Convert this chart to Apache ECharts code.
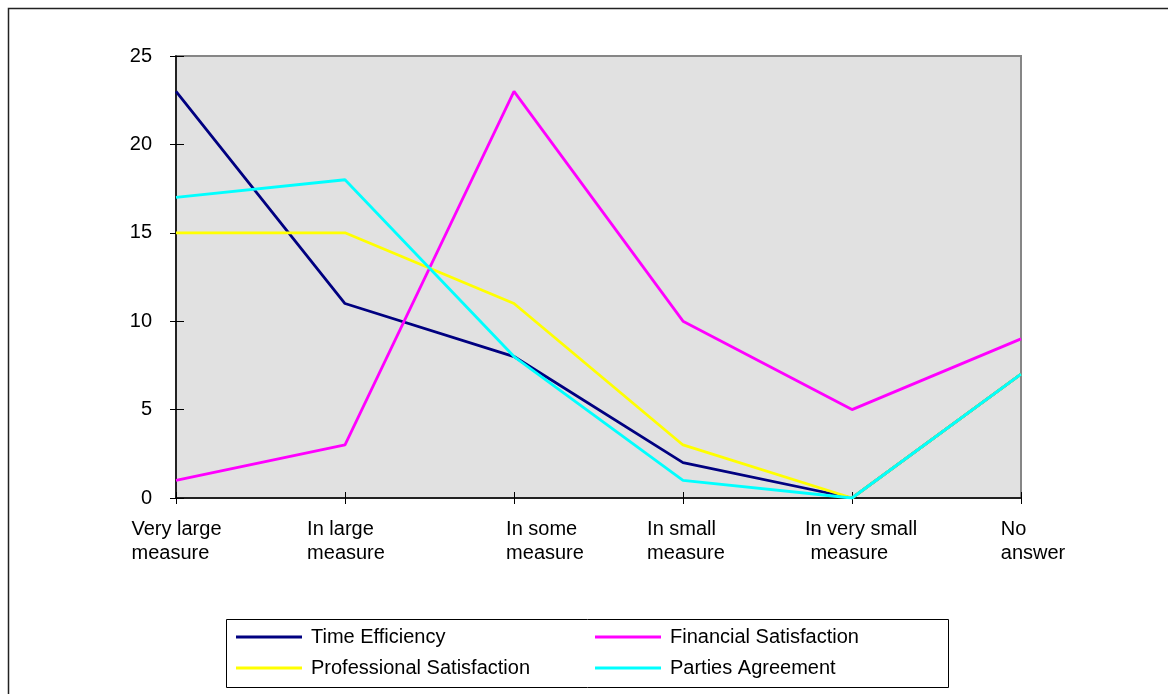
<!DOCTYPE html>
<html><head><meta charset="utf-8">
<script src="https://cdn.jsdelivr.net/npm/echarts@6/dist/echarts.min.js"></script>
<style>html,body{margin:0;padding:0;background:#fff}#c{width:1168px;height:694px}</style>
</head><body><div id="c"></div>
<script>
// ---- data ----
const categories = ['Very large\nmeasure', 'In large\nmeasure', 'In some\nmeasure', 'In small\nmeasure', 'In very small\n measure', 'No\nanswer'];
const timeEfficiency = [23, 11, 8, 2, 0, 7];
const financialSatisfaction = [1, 3, 23, 10, 5, 9];
const professionalSatisfaction = [15, 15, 11, 3, 0, 7];
const partiesAgreement = [17, 18, 8, 1, 0, 7];
const seriesNames = ['Time Efficiency', 'Financial Satisfaction', 'Professional Satisfaction', 'Parties Agreement'];

// ---- layout / style ----
const FONT = '"Liberation Sans", Arial, sans-serif';
const FS = 20;
const labelLeftOffset = [-45, -38, -8, -36, -47, -20]; // text block left edge relative to tick
const ctx = document.createElement('canvas').getContext('2d');
ctx.font = FS + 'px "Liberation Sans"';
const rich = {};
categories.forEach((c, i) => {
  const maxW = Math.max(...c.split('\n').map(l => ctx.measureText(l).width));
  const W = Math.max(1, Math.round(maxW + 2 * labelLeftOffset[i]));
  rich['s' + i] = { width: W, align: 'left', lineHeight: 24, fontSize: FS, fontFamily: FONT };
});
rich.t = { align: 'left', lineHeight: 24, fontSize: FS, fontFamily: FONT, color: '#000' };

const chart = echarts.init(document.getElementById('c'));
const lineColors = ['#000080', '#FF00FF', '#FFFF00', '#00FFFF'];
const seriesData = [timeEfficiency, financialSatisfaction, professionalSatisfaction, partiesAgreement];

const legendCommon = {
  orient: 'vertical', top: 627, padding: 0, icon: 'rect',
  itemWidth: 66, itemHeight: 3, itemGap: 11,
  textStyle: { fontSize: FS, color: '#000', fontFamily: FONT, lineHeight: 20, padding: [0, 0, 0, 4] }
};

chart.setOption({
  animation: false,
  backgroundColor: '#fff',
  textStyle: { fontFamily: FONT, color: '#000' },
  grid: {
    left: 176, top: 56, right: 147, bottom: 196,
    show: true, backgroundColor: '#e1e1e1', borderColor: '#868686', borderWidth: 2
  },
  xAxis: [{
    type: 'category',
    data: categories,
    boundaryGap: false,
    axisLine: { lineStyle: { color: '#000', width: 1.5 } },
    axisTick: { show: true, length: 6, lineStyle: { color: '#000', width: 1 } },
    axisLabel: {
      interval: 0, margin: 19,
      formatter: (v, i) => v.split('\n').map(l => '{s' + i + '| }{t|' + l + '}').join('\n'),
      rich: rich
    },
    splitLine: { show: false }
  }, {
    type: 'category', data: categories, boundaryGap: false, position: 'bottom',
    axisLine: { show: false }, axisLabel: { show: false }, splitLine: { show: false },
    axisTick: { show: true, inside: true, length: 6, lineStyle: { color: '#000', width: 1 } }
  }],
  yAxis: [{
    type: 'value', min: 0, max: 25, interval: 5,
    axisLine: { show: true, lineStyle: { color: '#000', width: 1.5 } },
    axisTick: { show: true, length: 6, lineStyle: { color: '#000', width: 1 } },
    axisLabel: { margin: 24, fontSize: FS, color: '#000', fontFamily: FONT },
    splitLine: { show: false }
  }, {
    type: 'value', min: 0, max: 25, interval: 5, position: 'left',
    axisLine: { show: false }, axisLabel: { show: false }, splitLine: { show: false },
    axisTick: { show: true, inside: true, length: 8, lineStyle: { color: '#000', width: 1 } }
  }],
  legend: [
    Object.assign({ left: 236, data: [seriesNames[0], seriesNames[2]] }, legendCommon),
    Object.assign({ left: 595, data: [seriesNames[1], seriesNames[3]] }, legendCommon)
  ],
  graphic: [
    { type: 'rect', shape: { x: 8.5, y: 8.5, width: 1200, height: 700 }, style: { fill: 'none', stroke: '#222', lineWidth: 1.5 }, z: 100, silent: true },
    { type: 'rect', shape: { x: 226.5, y: 619.5, width: 722, height: 68 }, style: { fill: 'none', stroke: '#000', lineWidth: 1 }, z: 100, silent: true }
  ],
  series: seriesNames.map((n, i) => ({
    name: n, type: 'line', data: seriesData[i],
    symbol: 'none', showSymbol: false,
    lineStyle: { color: lineColors[i], width: 2.8 },
    itemStyle: { color: lineColors[i] },
    z: 2 + i
  }))
});
</script>
</body></html>
